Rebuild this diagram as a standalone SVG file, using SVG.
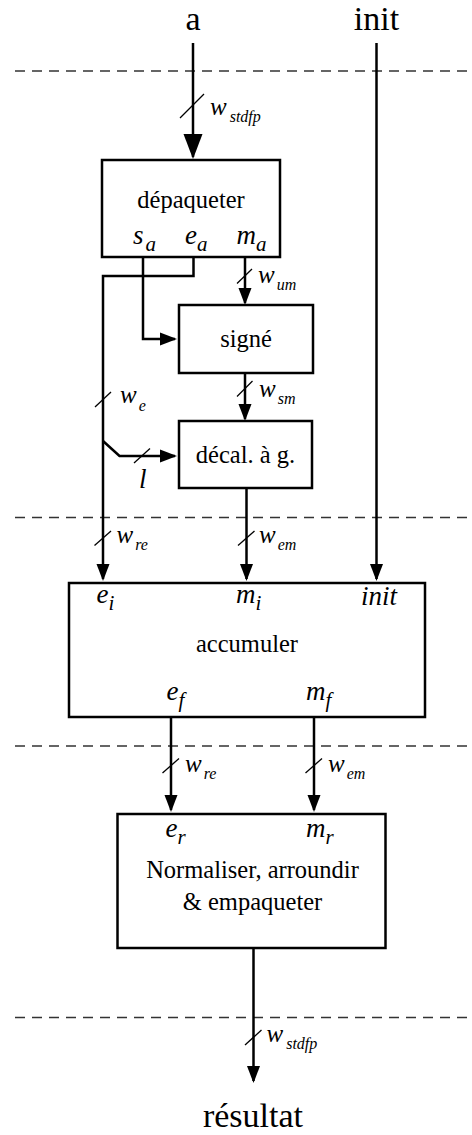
<svg xmlns="http://www.w3.org/2000/svg" width="472" height="1135" viewBox="0 0 472 1135">
  <style>
    .box { fill: #fff; stroke: #000; stroke-width: 2.5; }
    .wire { fill: none; stroke: #000; stroke-width: 2.5; }
    .tick { stroke: #000; stroke-width: 1.3; }
    .stage { stroke: #333; stroke-width: 1.3; stroke-dasharray: 10 7; }
    .io { font-family: "Liberation Serif", "Times New Roman", serif; font-size: 34px; fill: #000; text-anchor: middle; }
    .name { font-family: "Liberation Serif", "Times New Roman", serif; font-size: 24.5px; fill: #000; text-anchor: middle; }
    .port { font-family: "Liberation Serif", "Times New Roman", serif; font-style: italic; font-size: 27px; fill: #000; }
    .port .sub { font-size: 21px; }
    .width { font-family: "Liberation Serif", "Times New Roman", serif; font-style: italic; font-size: 25px; fill: #000; }
    .width .sub { font-size: 16px; }
  </style>
  <defs>
    <marker id="arr" markerUnits="userSpaceOnUse" refX="0" refY="0" orient="auto" overflow="visible">
      <path d="M2,0 L-15,-6.5 L-15,6.5 Z" fill="#000"/>
    </marker>
    <marker id="arr-big" markerUnits="userSpaceOnUse" refX="0" refY="0" orient="auto" overflow="visible">
      <path d="M2,0 L-23,-9.5 L-23,9.5 Z" fill="#000"/>
    </marker>
  </defs>

  <!-- pipeline stage boundaries -->
  <g id="stages">
    <line class="stage" x1="15" y1="71" x2="472" y2="71"/>
    <line class="stage" x1="15" y1="517.5" x2="472" y2="517.5"/>
    <line class="stage" x1="15" y1="746" x2="472" y2="746"/>
    <line class="stage" x1="15" y1="1017.5" x2="472" y2="1017.5"/>
  </g>

  <!-- primary inputs and output -->
  <g id="input-a"><text class="io" x="193" y="30">a</text></g>
  <g id="input-init"><text class="io" x="376.5" y="30">init</text></g>
  <g id="output-resultat"><text class="io" x="253" y="1127">résultat</text></g>

  <!-- connectors -->
  <g id="connectors">
    <path class="wire" d="M193,43 V157" marker-end="url(#arr-big)"/>
    <path class="wire" d="M376.5,43 V579" marker-end="url(#arr)"/>
    <path class="wire" d="M143,257 V339 H175" marker-end="url(#arr)"/>
    <path class="wire" d="M193.5,257 V276 H103 V579" marker-end="url(#arr)"/>
    <path class="wire" d="M103,441 L119.5,456 H175" marker-end="url(#arr)"/>
    <path class="wire" d="M245,257 V303" marker-end="url(#arr)"/>
    <path class="wire" d="M245,373 V419" marker-end="url(#arr)"/>
    <path class="wire" d="M246.5,488 V579" marker-end="url(#arr)"/>
    <path class="wire" d="M171,717 V810" marker-end="url(#arr)"/>
    <path class="wire" d="M314,717 V810" marker-end="url(#arr)"/>
    <path class="wire" d="M253.5,948 V1081" marker-end="url(#arr)"/>

    <!-- bus width ticks -->
    <line class="tick" x1="180" y1="118" x2="204" y2="94"/>
    <line class="tick" x1="237" y1="283.5" x2="252" y2="269"/>
    <line class="tick" x1="237" y1="396.5" x2="252.5" y2="381"/>
    <line class="tick" x1="95" y1="407" x2="111" y2="392"/>
    <line class="tick" x1="134" y1="463" x2="150" y2="448.5"/>
    <line class="tick" x1="94.5" y1="545.5" x2="111" y2="531"/>
    <line class="tick" x1="238" y1="545.5" x2="254.5" y2="531"/>
    <line class="tick" x1="162.5" y1="773" x2="179" y2="758.5"/>
    <line class="tick" x1="305.5" y1="773" x2="322" y2="758.5"/>
    <line class="tick" x1="245" y1="1045" x2="261.5" y2="1030"/>

    <!-- bus width labels -->
    <text class="width" x="210" y="115">w<tspan class="sub" dx="3" dy="7">stdfp</tspan></text>
    <text class="width" x="258" y="283">w<tspan class="sub" dx="2" dy="7">um</tspan></text>
    <text class="width" x="259" y="397">w<tspan class="sub" dx="2" dy="7">sm</tspan></text>
    <text class="width" x="120" y="403">w<tspan class="sub" dx="2" dy="8">e</tspan></text>
    <text class="port" x="139" y="488">l</text>
    <text class="width" x="116.5" y="543">w<tspan class="sub" dx="2" dy="7">re</tspan></text>
    <text class="width" x="259" y="543">w<tspan class="sub" dx="2" dy="7">em</tspan></text>
    <text class="width" x="185" y="771.5">w<tspan class="sub" dx="2" dy="7">re</tspan></text>
    <text class="width" x="328" y="771.5">w<tspan class="sub" dx="2" dy="7">em</tspan></text>
    <text class="width" x="266.5" y="1042">w<tspan class="sub" dx="3" dy="7">stdfp</tspan></text>
  </g>

  <!-- unpack -->
  <g id="depaqueter">
    <rect class="box" x="102" y="160" width="178" height="97"/>
    <text class="name" x="191" y="208">dépaqueter</text>
    <text class="port" x="133" y="244">s<tspan class="sub" dx="2" dy="7">a</tspan></text>
    <text class="port" x="185" y="244">e<tspan class="sub" dy="7">a</tspan></text>
    <text class="port" x="236.5" y="244">m<tspan class="sub" dy="7">a</tspan></text>
  </g>

  <!-- signed conversion -->
  <g id="signe">
    <rect class="box" x="179" y="305" width="134" height="68"/>
    <text class="name" x="246" y="347">signé</text>
  </g>

  <!-- left shift -->
  <g id="decal">
    <rect class="box" x="179" y="421" width="133" height="67"/>
    <text class="name" x="245.5" y="463">décal. à g.</text>
  </g>

  <!-- accumulator -->
  <g id="accumuler">
    <rect class="box" x="69" y="583" width="356" height="134"/>
    <text class="port" x="96.5" y="603">e<tspan class="sub" dy="7">i</tspan></text>
    <text class="port" x="236" y="603">m<tspan class="sub" dy="7">i</tspan></text>
    <text class="port" x="361" y="605">init</text>
    <text class="name" x="247" y="652">accumuler</text>
    <text class="port" x="166.5" y="700">e<tspan class="sub" dy="7">f</tspan></text>
    <text class="port" x="306" y="700">m<tspan class="sub" dy="7">f</tspan></text>
  </g>

  <!-- normalise, round and pack -->
  <g id="normaliser">
    <rect class="box" x="117.5" y="814" width="268" height="134"/>
    <text class="port" x="165.5" y="836.5">e<tspan class="sub" dy="7">r</tspan></text>
    <text class="port" x="306" y="836.5">m<tspan class="sub" dy="7">r</tspan></text>
    <text class="name" x="252.5" y="878">Normaliser, arroundir</text>
    <text class="name" x="252.5" y="910">&amp; empaqueter</text>
  </g>
</svg>
